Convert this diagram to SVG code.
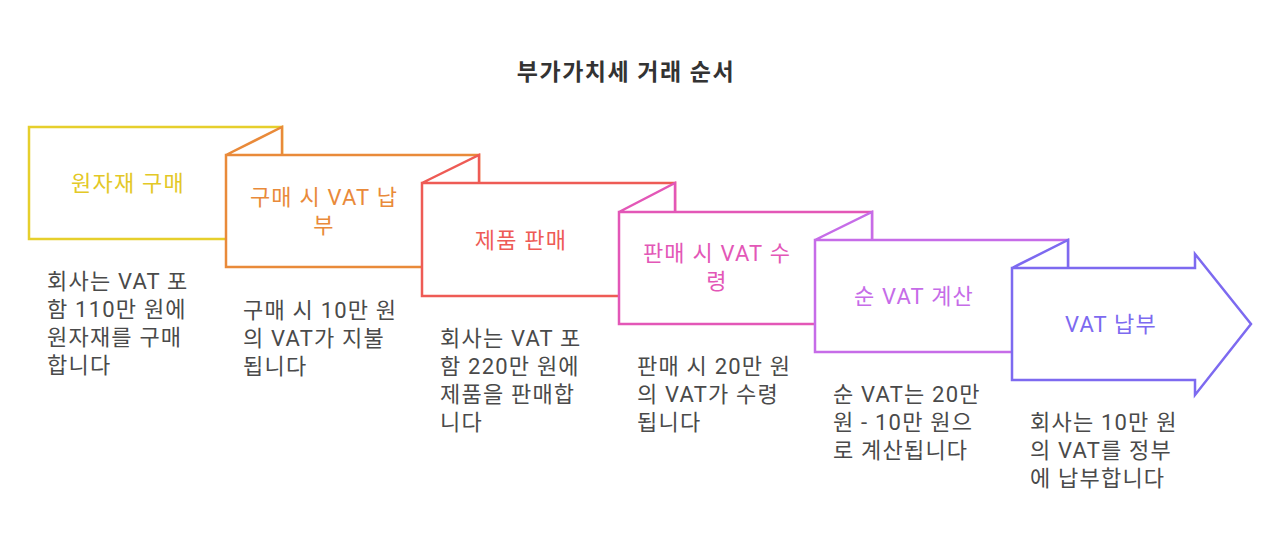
<svg xmlns="http://www.w3.org/2000/svg" width="1280" height="550" viewBox="0 0 1280 550">
<style>
text{font-family:Roboto,"Noto Sans CJK KR",sans-serif;}
.title{font-size:23px;font-weight:bold;fill:#333333;letter-spacing:1.5px;}
.lbl{font-size:22px;letter-spacing:1.2px;text-anchor:middle;dominant-baseline:central;}
.desc{font-size:22px;letter-spacing:1.2px;fill:#4a4a4a;dominant-baseline:central;}
.shape{fill:#ffffff;stroke-width:2.5;stroke-linejoin:miter;}
</style>
<rect width="1280" height="550" fill="#ffffff"/>
<text class="title" x="626" y="72" text-anchor="middle" dominant-baseline="central">부가가치세 거래 순서</text>
<g id="connectors"/>
<g id="step1">
<path class="shape" stroke="#E6CF2C" d="M29,127 H282 V239 H29 Z"/>
<text class="lbl" fill="#E3C826" x="128" y="183">원자재 구매</text>
<text class="desc" x="47"><tspan x="47" y="281">회사는 VAT 포</tspan><tspan x="47" y="309">함 110만 원에</tspan><tspan x="47" y="337">원자재를 구매</tspan><tspan x="47" y="365">합니다</tspan></text>
</g>
<g id="step2">
<path class="shape" stroke="#E98A3A" d="M226,155 L282,127 V155 M226,155 H479 V267 H226 Z"/>
<text class="lbl" fill="#E98A3A" x="324"><tspan x="324" y="197">구매 시 VAT 납</tspan><tspan x="324" y="225">부</tspan></text>
<text class="desc" x="243"><tspan x="243" y="310">구매 시 10만 원</tspan><tspan x="243" y="338">의 VAT가 지불</tspan><tspan x="243" y="366">됩니다</tspan></text>
</g>
<g id="step3">
<path class="shape" stroke="#EE5B55" d="M422,183 L479,155 V183 M422,183 H675 V296 H422 Z"/>
<text class="lbl" fill="#EE5B55" x="521" y="240">제품 판매</text>
<text class="desc" x="440"><tspan x="440" y="338">회사는 VAT 포</tspan><tspan x="440" y="366">함 220만 원에</tspan><tspan x="440" y="394">제품을 판매합</tspan><tspan x="440" y="422">니다</tspan></text>
</g>
<g id="step4">
<path class="shape" stroke="#E357B7" d="M619,212 L675,183 V212 M619,212 H872 V324 H619 Z"/>
<text class="lbl" fill="#E357B7" x="717"><tspan x="717" y="253">판매 시 VAT 수</tspan><tspan x="717" y="281">령</tspan></text>
<text class="desc" x="637"><tspan x="637" y="366">판매 시 20만 원</tspan><tspan x="637" y="394">의 VAT가 수령</tspan><tspan x="637" y="422">됩니다</tspan></text>
</g>
<g id="step5">
<path class="shape" stroke="#C66CE8" d="M815,240 L872,212 V240 M815,240 H1068 V352 H815 Z"/>
<text class="lbl" fill="#C66CE8" x="914" y="296">순 VAT 계산</text>
<text class="desc" x="833"><tspan x="833" y="394">순 VAT는 20만</tspan><tspan x="833" y="422">원 - 10만 원으</tspan><tspan x="833" y="450">로 계산됩니다</tspan></text>
</g>
<g id="step6">
<path class="shape" stroke="#7D6AF0" d="M1012,268 L1068,240 V268 M1012,268 H1195 V254 L1251,324 L1195,395 V380 H1012 Z"/>
<text class="lbl" fill="#7D6AF0" x="1111" y="324">VAT 납부</text>
<text class="desc" x="1030"><tspan x="1030" y="422">회사는 10만 원</tspan><tspan x="1030" y="450">의 VAT를 정부</tspan><tspan x="1030" y="478">에 납부합니다</tspan></text>
</g>
</svg>
